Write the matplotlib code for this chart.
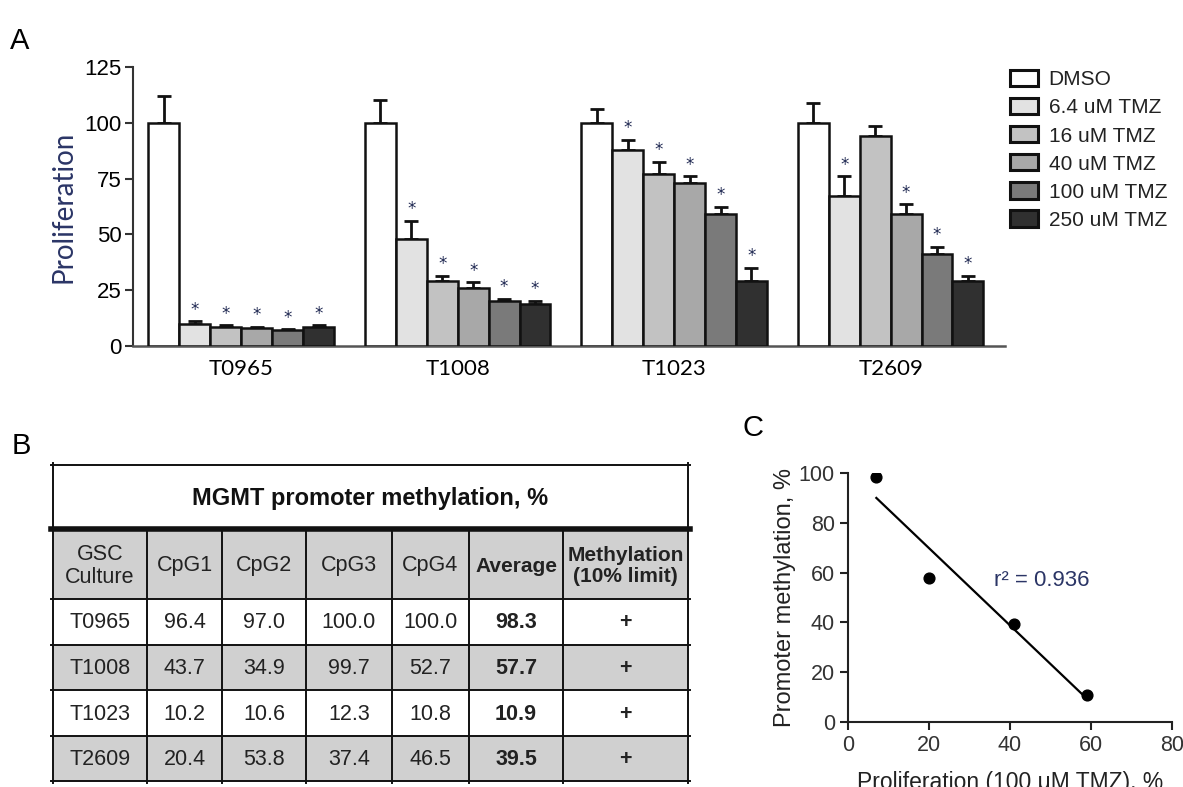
import matplotlib
matplotlib.use("Agg")
import matplotlib.pyplot as plt
from matplotlib.patches import Patch, Rectangle
import numpy as np

# ---- data ----
cultures = ["T0965", "T1008", "T1023", "T2609"]
treatments = ["DMSO", "6.4 uM TMZ", "16 uM TMZ", "40 uM TMZ", "100 uM TMZ", "250 uM TMZ"]
bar_colors = ["#ffffff", "#e2e2e2", "#c2c2c2", "#a8a8a8", "#7a7a7a", "#303030"]

# proliferation (% of DMSO), rows = culture, cols = treatment
prolif = [
    [100, 10, 8.5, 8, 7, 8.5],
    [100, 48, 29, 26, 20, 19],
    [100, 88, 77, 73, 59, 29],
    [100, 67, 94, 59, 41, 29],
]
prolif_err = [
    [12, 1, 0.8, 0.6, 0.5, 0.8],
    [10, 8, 2.5, 2.5, 1.2, 1.2],
    [6, 4.5, 5.5, 3, 3.5, 6],
    [9, 9, 4.5, 4.5, 3.5, 2.5],
]
# significance marks (True = asterisk)
signif = [
    [False, True, True, True, True, True],
    [False, True, True, True, True, True],
    [False, True, True, True, True, True],
    [False, True, False, True, True, True],
]

# table B
cpg_cols = ["CpG1", "CpG2", "CpG3", "CpG4"]
cpg_vals = [
    ["96.4", "97.0", "100.0", "100.0"],
    ["43.7", "34.9", "99.7", "52.7"],
    ["10.2", "10.6", "12.3", "10.8"],
    ["20.4", "53.8", "37.4", "46.5"],
]
averages = ["98.3", "57.7", "10.9", "39.5"]
meth_status = ["+", "+", "+", "+"]

# panel C
prolif_100 = [7, 20, 59, 41]       # T0965, T1008, T1023, T2609
methyl_avg = [98.3, 57.7, 10.9, 39.5]

W, H = 1183, 787
fig = plt.figure(figsize=(W / 100, H / 100), dpi=100)


def rect(x0, y0, x1, y1):
    # pixel box (top-left origin) -> figure fraction
    return [x0 / W, 1 - y1 / H, (x1 - x0) / W, (y1 - y0) / H]


# canvas for panel labels and table
canvas = fig.add_axes([0, 0, 1, 1])
canvas.set_xlim(0, W)
canvas.set_ylim(H, 0)
canvas.axis("off")

canvas.text(10, 41, "A", fontsize=21, family="Liberation Sans", va="center")
canvas.text(12, 446, "B", fontsize=21, family="Liberation Sans", va="center")
canvas.text(743, 428, "C", fontsize=21, family="Liberation Sans", va="center")

# ---- panel A ----
ax = fig.add_axes(rect(133, 67, 1005, 346))
pitch = 7
for g, name in enumerate(cultures):
    for i in range(len(treatments)):
        x = g * pitch + i
        ax.bar(x, prolif[g][i], width=1.0, color=bar_colors[i],
               edgecolor="#111111", linewidth=1.8, zorder=3)
        ax.errorbar(x, prolif[g][i], yerr=[[0], [prolif_err[g][i]]],
                    fmt="none", ecolor="#111111", elinewidth=2.0,
                    capsize=5, capthick=2.0, zorder=2)
        if signif[g][i]:
            ax.text(x, prolif[g][i] + prolif_err[g][i] + 1.2, "*",
                    ha="center", va="bottom", fontsize=12, color="#1d2650")

ax.set_xlim(-1.0, 27.2)
ax.set_ylim(0, 125)
ax.set_yticks([0, 25, 50, 75, 100, 125])
ax.set_xticks([g * pitch + 2.5 for g in range(len(cultures))])
ax.set_xticklabels(cultures, family="Lato", fontsize=16)
ax.tick_params(axis="x", length=0, pad=9)
ax.tick_params(axis="y", length=6, width=1.5, labelsize=16, pad=2, color="#333333")
for lab in ax.get_yticklabels():
    lab.set_family("Liberation Sans")
ax.spines["top"].set_visible(False)
ax.spines["right"].set_visible(False)
ax.spines["left"].set_linewidth(1.5)
ax.spines["left"].set_color("#333333")
ax.spines["bottom"].set_linewidth(1.8)
ax.spines["bottom"].set_color("#555555")
ax.set_ylabel("Proliferation", family="Lato", fontsize=20, color="#2b3566", labelpad=6)

handles = [Patch(facecolor=c, edgecolor="#111111", linewidth=2.2) for c in bar_colors]
fig.legend(handles, treatments, loc="upper left", bbox_to_anchor=(1010 / W, 1 - 70 / H),
           frameon=False, prop={"family": "Liberation Sans", "size": 15},
           handlelength=1.35, handleheight=0.82, handletextpad=0.5, labelspacing=0.42,
           borderpad=0, borderaxespad=0, labelcolor="#222222")

# ---- panel B: table ----
cols = [53, 147, 222, 306, 392, 469, 563, 688]
row_edges = [599, 645, 690, 736, 781]
top, thick, head_bot = 465, 529, 599
gray = "#d0d0d0"
tfont = "Liberation Sans"

canvas.add_patch(Rectangle((cols[0], thick), cols[-1] - cols[0], head_bot - thick,
                           facecolor=gray, edgecolor="none"))
for r in range(len(cultures)):
    if r % 2 == 1:
        canvas.add_patch(Rectangle((cols[0], row_edges[r]), cols[-1] - cols[0],
                                   row_edges[r + 1] - row_edges[r],
                                   facecolor=gray, edgecolor="none"))

lw = 1.4
canvas.plot([cols[0] - 2, cols[-1] + 2], [top, top], color="#111111", lw=lw)
canvas.plot([cols[0] - 2, cols[-1] + 2], [thick, thick], color="#111111", lw=4.0)
for yy in row_edges:
    canvas.plot([cols[0] - 2, cols[-1] + 2], [yy, yy], color="#111111", lw=lw)
canvas.plot([cols[0], cols[0]], [top - 2, row_edges[-1] + 2], color="#111111", lw=lw)
canvas.plot([cols[-1], cols[-1]], [top - 2, row_edges[-1] + 2], color="#111111", lw=lw)
for xx in cols[1:-1]:
    canvas.plot([xx, xx], [thick, row_edges[-1] + 2], color="#111111", lw=lw)

canvas.text((cols[0] + cols[-1]) / 2, (top + thick) / 2 + 1, "MGMT promoter methylation, %",
            ha="center", va="center", fontsize=17, weight="bold", family=tfont, color="#111111")

headers = ["GSC\nCulture"] + cpg_cols + ["Average", "Methylation\n(10% limit)"]
hcy = (thick + head_bot) / 2 + 2
for j, h in enumerate(headers):
    cx = (cols[j] + cols[j + 1]) / 2
    bold = j >= 5
    canvas.text(cx, hcy, h, ha="center", va="center", fontsize=15.5 if not bold else 15,
                weight="bold" if bold else "normal", family=tfont, color="#222222",
                linespacing=1.1)

for r, name in enumerate(cultures):
    cy = (row_edges[r] + row_edges[r + 1]) / 2 + 1
    cells = [name] + cpg_vals[r] + [averages[r], meth_status[r]]
    for j, txt in enumerate(cells):
        cx = (cols[j] + cols[j + 1]) / 2
        bold = j >= 5
        canvas.text(cx, cy, txt, ha="center", va="center", fontsize=15.5,
                    weight="bold" if bold else "normal", family=tfont, color="#222222")

# ---- panel C ----
axc = fig.add_axes(rect(848, 473, 1172, 722))
axc.scatter(prolif_100, methyl_avg, s=60, color="black", zorder=3)
slope, intercept = np.polyfit(prolif_100, methyl_avg, 1)
xs = np.array([min(prolif_100), max(prolif_100)])
axc.plot(xs, slope * xs + intercept, color="black", lw=1.6)
axc.set_xlim(0, 80)
axc.set_ylim(0, 100)
axc.set_xticks([0, 20, 40, 60, 80])
axc.set_yticks([0, 20, 40, 60, 80, 100])
axc.spines["top"].set_visible(False)
axc.spines["right"].set_visible(False)
for s in ("left", "bottom"):
    axc.spines[s].set_linewidth(1.5)
    axc.spines[s].set_color("#222222")
axc.tick_params(length=6, width=1.5, labelsize=15.5, color="#222222", labelcolor="#333333")
for lab in axc.get_xticklabels() + axc.get_yticklabels():
    lab.set_family("Liberation Sans")
axc.set_ylabel("Promoter methylation, %", fontsize=17, family="Liberation Sans",
               color="#222222", labelpad=2)
axc.set_xlabel("Proliferation (100 \u03bcM TMZ), %", fontsize=16.5, family="Liberation Sans",
               color="#222222", labelpad=11)
axc.text(36, 57, "r\u00b2 = 0.936", fontsize=16, family="Liberation Sans", color="#2b3566",
         va="center")

fig.savefig("out.png", dpi=100)
